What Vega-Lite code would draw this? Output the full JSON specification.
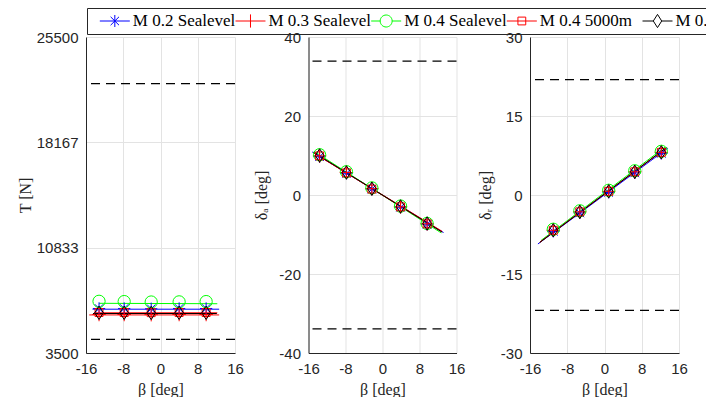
{
  "$schema": "https://vega.github.io/schema/vega-lite/v6.json",
  "padding": {"left": 17, "top": 7, "right": 0, "bottom": 0},
  "background": "white",
  "spacing": -5,
  "config": {
    "view": {"stroke": null},
    "axis": {"labelFont": "Liberation Sans", "labelFontSize": 15, "labelColor": "#262626", "titleFont": "Liberation Serif", "titleFontSize": 16, "titleFontWeight": "normal", "titleColor": "#262626", "domainColor": "#262626", "domainWidth": 1, "gridColor": "#e3e3e3", "ticks": false, "labelPadding": 8, "labelFlush": false, "labelOverlap": false},
    "axisX": {"titlePadding": 5}
  },
  "resolve": {"scale": {"x": "independent", "y": "independent", "color": "independent", "shape": "independent"}},
  "datasets": {
    "legend": [
      {"series": "M 0.2 Sealevel"},
      {"series": "M 0.3 Sealevel"},
      {"series": "M 0.4 Sealevel"},
      {"series": "M 0.4 5000m"},
      {"series": "M 0.4 10000m"}
    ],
    "T": [
      {"series": "M 0.2 Sealevel", "kind": "line", "beta": -14.6, "value": 6550},
      {"series": "M 0.2 Sealevel", "kind": "line", "beta": 12.6, "value": 6550},
      {"series": "M 0.2 Sealevel", "kind": "marker", "beta": -13.2, "value": 6600},
      {"series": "M 0.2 Sealevel", "kind": "marker", "beta": -7.8, "value": 6600},
      {"series": "M 0.2 Sealevel", "kind": "marker", "beta": -2.0, "value": 6580},
      {"series": "M 0.2 Sealevel", "kind": "marker", "beta": 4.0, "value": 6600},
      {"series": "M 0.2 Sealevel", "kind": "marker", "beta": 9.8, "value": 6600},
      {"series": "M 0.3 Sealevel", "kind": "line", "beta": -15.3, "value": 6150},
      {"series": "M 0.3 Sealevel", "kind": "line", "beta": 12.6, "value": 6150},
      {"series": "M 0.3 Sealevel", "kind": "marker", "beta": -13.2, "value": 6180},
      {"series": "M 0.3 Sealevel", "kind": "marker", "beta": -7.8, "value": 6180},
      {"series": "M 0.3 Sealevel", "kind": "marker", "beta": -2.0, "value": 6170},
      {"series": "M 0.3 Sealevel", "kind": "marker", "beta": 4.0, "value": 6180},
      {"series": "M 0.3 Sealevel", "kind": "marker", "beta": 9.8, "value": 6180},
      {"series": "M 0.4 Sealevel", "kind": "line", "beta": -13.2, "value": 6960},
      {"series": "M 0.4 Sealevel", "kind": "line", "beta": 12.2, "value": 6930},
      {"series": "M 0.4 Sealevel", "kind": "marker", "beta": -13.2, "value": 7100},
      {"series": "M 0.4 Sealevel", "kind": "marker", "beta": -7.8, "value": 7080},
      {"series": "M 0.4 Sealevel", "kind": "marker", "beta": -2.0, "value": 7050},
      {"series": "M 0.4 Sealevel", "kind": "marker", "beta": 4.0, "value": 7060},
      {"series": "M 0.4 Sealevel", "kind": "marker", "beta": 9.8, "value": 7080},
      {"series": "M 0.4 5000m", "kind": "line", "beta": -14.2, "value": 6300},
      {"series": "M 0.4 5000m", "kind": "line", "beta": 12.2, "value": 6300},
      {"series": "M 0.4 5000m", "kind": "marker", "beta": -13.2, "value": 6320},
      {"series": "M 0.4 5000m", "kind": "marker", "beta": -7.8, "value": 6320},
      {"series": "M 0.4 5000m", "kind": "marker", "beta": -2.0, "value": 6310},
      {"series": "M 0.4 5000m", "kind": "marker", "beta": 4.0, "value": 6320},
      {"series": "M 0.4 5000m", "kind": "marker", "beta": 9.8, "value": 6320},
      {"series": "M 0.4 10000m", "kind": "line", "beta": -14.5, "value": 6250},
      {"series": "M 0.4 10000m", "kind": "line", "beta": 12.1, "value": 6250},
      {"series": "M 0.4 10000m", "kind": "marker", "beta": -13.2, "value": 6300},
      {"series": "M 0.4 10000m", "kind": "marker", "beta": -7.8, "value": 6300},
      {"series": "M 0.4 10000m", "kind": "marker", "beta": -2.0, "value": 6290},
      {"series": "M 0.4 10000m", "kind": "marker", "beta": 4.0, "value": 6300},
      {"series": "M 0.4 10000m", "kind": "marker", "beta": 9.8, "value": 6300}
    ],
    "da": [
      {"series": "M 0.2 Sealevel", "kind": "line", "beta": -15.2, "value": 10.9},
      {"series": "M 0.2 Sealevel", "kind": "line", "beta": 13.2, "value": -9.5},
      {"series": "M 0.2 Sealevel", "kind": "marker", "beta": -13.6, "value": 9.7},
      {"series": "M 0.2 Sealevel", "kind": "marker", "beta": -7.8, "value": 5.5},
      {"series": "M 0.2 Sealevel", "kind": "marker", "beta": -2.3, "value": 1.5},
      {"series": "M 0.2 Sealevel", "kind": "marker", "beta": 3.9, "value": -3.1},
      {"series": "M 0.2 Sealevel", "kind": "marker", "beta": 9.65, "value": -7.4},
      {"series": "M 0.3 Sealevel", "kind": "line", "beta": -14.9, "value": 10.7},
      {"series": "M 0.3 Sealevel", "kind": "line", "beta": 12.9, "value": -9.2},
      {"series": "M 0.3 Sealevel", "kind": "marker", "beta": -13.6, "value": 9.9},
      {"series": "M 0.3 Sealevel", "kind": "marker", "beta": -7.8, "value": 5.7},
      {"series": "M 0.3 Sealevel", "kind": "marker", "beta": -2.3, "value": 1.6},
      {"series": "M 0.3 Sealevel", "kind": "marker", "beta": 3.9, "value": -3.0},
      {"series": "M 0.3 Sealevel", "kind": "marker", "beta": 9.65, "value": -7.3},
      {"series": "M 0.4 Sealevel", "kind": "line", "beta": -14.6, "value": 10.9},
      {"series": "M 0.4 Sealevel", "kind": "line", "beta": 12.7, "value": -9.6},
      {"series": "M 0.4 Sealevel", "kind": "marker", "beta": -13.6, "value": 10.2},
      {"series": "M 0.4 Sealevel", "kind": "marker", "beta": -7.8, "value": 5.9},
      {"series": "M 0.4 Sealevel", "kind": "marker", "beta": -2.3, "value": 1.8},
      {"series": "M 0.4 Sealevel", "kind": "marker", "beta": 3.9, "value": -2.8},
      {"series": "M 0.4 Sealevel", "kind": "marker", "beta": 9.65, "value": -7.2},
      {"series": "M 0.4 5000m", "kind": "line", "beta": -14.8, "value": 10.6},
      {"series": "M 0.4 5000m", "kind": "line", "beta": 12.8, "value": -9.3},
      {"series": "M 0.4 5000m", "kind": "marker", "beta": -13.6, "value": 9.9},
      {"series": "M 0.4 5000m", "kind": "marker", "beta": -7.8, "value": 5.6},
      {"series": "M 0.4 5000m", "kind": "marker", "beta": -2.3, "value": 1.5},
      {"series": "M 0.4 5000m", "kind": "marker", "beta": 3.9, "value": -3.0},
      {"series": "M 0.4 5000m", "kind": "marker", "beta": 9.65, "value": -7.3},
      {"series": "M 0.4 10000m", "kind": "line", "beta": -14.9, "value": 10.8},
      {"series": "M 0.4 10000m", "kind": "line", "beta": 12.9, "value": -9.4},
      {"series": "M 0.4 10000m", "kind": "marker", "beta": -13.6, "value": 10.0},
      {"series": "M 0.4 10000m", "kind": "marker", "beta": -7.8, "value": 5.7},
      {"series": "M 0.4 10000m", "kind": "marker", "beta": -2.3, "value": 1.6},
      {"series": "M 0.4 10000m", "kind": "marker", "beta": 3.9, "value": -2.9},
      {"series": "M 0.4 10000m", "kind": "marker", "beta": 9.65, "value": -7.2}
    ],
    "dr": [
      {"series": "M 0.2 Sealevel", "kind": "line", "beta": -14.3, "value": -9.3},
      {"series": "M 0.2 Sealevel", "kind": "line", "beta": 13.6, "value": 8.9},
      {"series": "M 0.2 Sealevel", "kind": "marker", "beta": -11.0, "value": -6.9},
      {"series": "M 0.2 Sealevel", "kind": "marker", "beta": -5.3, "value": -3.4},
      {"series": "M 0.2 Sealevel", "kind": "marker", "beta": 0.9, "value": 0.5},
      {"series": "M 0.2 Sealevel", "kind": "marker", "beta": 6.5, "value": 4.2},
      {"series": "M 0.2 Sealevel", "kind": "marker", "beta": 12.2, "value": 7.9},
      {"series": "M 0.3 Sealevel", "kind": "line", "beta": -13.9, "value": -9.0},
      {"series": "M 0.3 Sealevel", "kind": "line", "beta": 13.3, "value": 9.0},
      {"series": "M 0.3 Sealevel", "kind": "marker", "beta": -11.0, "value": -6.7},
      {"series": "M 0.3 Sealevel", "kind": "marker", "beta": -5.3, "value": -3.2},
      {"series": "M 0.3 Sealevel", "kind": "marker", "beta": 0.9, "value": 0.7},
      {"series": "M 0.3 Sealevel", "kind": "marker", "beta": 6.5, "value": 4.4},
      {"series": "M 0.3 Sealevel", "kind": "marker", "beta": 12.2, "value": 8.1},
      {"series": "M 0.4 Sealevel", "kind": "line", "beta": -13.6, "value": -8.6},
      {"series": "M 0.4 Sealevel", "kind": "line", "beta": 13.0, "value": 9.1},
      {"series": "M 0.4 Sealevel", "kind": "marker", "beta": -11.0, "value": -6.5},
      {"series": "M 0.4 Sealevel", "kind": "marker", "beta": -5.3, "value": -3.0},
      {"series": "M 0.4 Sealevel", "kind": "marker", "beta": 0.9, "value": 0.9},
      {"series": "M 0.4 Sealevel", "kind": "marker", "beta": 6.5, "value": 4.6},
      {"series": "M 0.4 Sealevel", "kind": "marker", "beta": 12.2, "value": 8.3},
      {"series": "M 0.4 5000m", "kind": "line", "beta": -13.8, "value": -8.9},
      {"series": "M 0.4 5000m", "kind": "line", "beta": 13.2, "value": 8.9},
      {"series": "M 0.4 5000m", "kind": "marker", "beta": -11.0, "value": -6.7},
      {"series": "M 0.4 5000m", "kind": "marker", "beta": -5.3, "value": -3.2},
      {"series": "M 0.4 5000m", "kind": "marker", "beta": 0.9, "value": 0.7},
      {"series": "M 0.4 5000m", "kind": "marker", "beta": 6.5, "value": 4.4},
      {"series": "M 0.4 5000m", "kind": "marker", "beta": 12.2, "value": 8.1},
      {"series": "M 0.4 10000m", "kind": "line", "beta": -13.9, "value": -9.0},
      {"series": "M 0.4 10000m", "kind": "line", "beta": 13.3, "value": 9.0},
      {"series": "M 0.4 10000m", "kind": "marker", "beta": -11.0, "value": -6.7},
      {"series": "M 0.4 10000m", "kind": "marker", "beta": -5.3, "value": -3.2},
      {"series": "M 0.4 10000m", "kind": "marker", "beta": 0.9, "value": 0.7},
      {"series": "M 0.4 10000m", "kind": "marker", "beta": 6.5, "value": 4.4},
      {"series": "M 0.4 10000m", "kind": "marker", "beta": 12.2, "value": 8.1}
    ],
    "Tb": [{"value": 22250}, {"value": 4450}],
    "dab": [{"value": 33.9}, {"value": -33.9}],
    "drb": [{"value": 21.9}, {"value": -21.9}]
  },
  "vconcat": [
    {
      "spacing": -67,
      "bounds": "flush",
      "resolve": {"scale": {"x": "independent", "y": "independent", "color": "independent", "shape": "independent"}},
      "hconcat": [
        {
          "width": 1, "height": 26,
          "data": {"values": [{"a": 1}]},
          "mark": {"type": "point", "opacity": 0},
          "encoding": {}
        },
        {
          "width": 704, "height": 26,
          "view": {"stroke": "#262626", "strokeWidth": 1, "fill": "white"},
          "data": {"name": "legend"},
          "layer": [
            {
              "mark": {"type": "point", "filled": false, "size": 144, "strokeWidth": 1, "opacity": 1, "xOffset": 15},
              "encoding": {
                "x": {"field": "series", "type": "nominal", "sort": null, "bandPosition": 0, "scale": {"type": "band", "paddingInner": 0, "paddingOuter": 0.0945}, "axis": null},
                "color": {"field": "series", "type": "nominal", "scale": {"domain": ["M 0.2 Sealevel", "M 0.3 Sealevel", "M 0.4 Sealevel", "M 0.4 5000m", "M 0.4 10000m"], "range": ["#0000ff", "#ff0000", "#00ff00", "#ff0000", "#000000"]}, "legend": null},
                "shape": {"field": "series", "type": "nominal", "scale": {"domain": ["M 0.2 Sealevel", "M 0.3 Sealevel", "M 0.4 Sealevel", "M 0.4 5000m", "M 0.4 10000m"], "range": ["M-2.5,0H2.5M0,-1V1M-0.7,-0.7L0.7,0.7M-0.7,0.7L0.7,-0.7", "M-2.5,0H2.5M0,-1.1V1.1", "M-2.5,0H-1A1,1,0,1,1,1,0A1,1,0,1,1,-1,0M1,0H2.5", "M-2.5,0H2.5M-0.65,-0.65H0.65V0.65H-0.65Z", "M-2.5,0H-0.7L0,-1.1L0.7,0L0,1.1L-0.7,0M0.7,0H2.5"]}, "legend": null}
              }
            },
            {
              "mark": {"type": "text", "align": "left", "baseline": "middle", "dx": 33, "font": "Liberation Serif", "fontSize": 17, "color": "#000000"},
              "encoding": {
                "x": {"field": "series", "type": "nominal", "sort": null, "bandPosition": 0, "scale": {"type": "band", "paddingInner": 0, "paddingOuter": 0.0945}, "axis": null},
                "text": {"field": "series"}
              }
            }
          ]
        }
      ]
    },
    {
      "spacing": 73.5,
      "bounds": "flush",
      "resolve": {"scale": {"x": "independent", "y": "independent", "color": "independent", "shape": "independent", "stroke": "independent"}},
      "hconcat": [
        {
          "width": 149, "height": 316,
          "layer": [
            {
              "data": {"name": "T"},
              "transform": [{"filter": "datum.kind === 'line'"}],
              "mark": {"type": "line", "strokeWidth": 1},
              "encoding": {
                "x": {"field": "beta", "type": "quantitative", "scale": {"domain": [-16, 16], "nice": false, "zero": false}, "axis": {"values": [-16, -8, 0, 8, 16], "labelExpr": "toString(datum.value)", "title": "β [deg]", "grid": true}},
                "y": {"field": "value", "type": "quantitative", "scale": {"domain": [3500, 25500], "nice": false, "zero": false}, "axis": {"values": [3500, 10833.333, 18166.667, 25500], "format": ".0f", "title": "T [N]", "titlePadding": 3, "grid": true}},
                "stroke": {"field": "series", "type": "nominal", "scale": {"domain": ["M 0.2 Sealevel", "M 0.3 Sealevel", "M 0.4 Sealevel", "M 0.4 5000m", "M 0.4 10000m"], "range": ["#0000ff", "#ff0000", "#00ff00", "#ff0000", "#000000"]}, "legend": null}
              }
            },
            {
              "data": {"name": "T"},
              "transform": [{"filter": "datum.kind === 'marker'"}],
              "mark": {"type": "point", "filled": false, "size": 150, "strokeWidth": 1, "opacity": 1},
              "encoding": {
                "x": {"field": "beta", "type": "quantitative", "axis": {"values": [-16, -8, 0, 8, 16], "labelExpr": "toString(datum.value)", "title": "β [deg]", "grid": true}},
                "y": {"field": "value", "type": "quantitative", "axis": {"values": [3500, 10833.333, 18166.667, 25500], "format": ".0f", "title": "T [N]", "titlePadding": 3, "grid": true}},
                "color": {"field": "series", "type": "nominal", "scale": {"domain": ["M 0.2 Sealevel", "M 0.3 Sealevel", "M 0.4 Sealevel", "M 0.4 5000m", "M 0.4 10000m"], "range": ["#0000ff", "#ff0000", "#00ff00", "#ff0000", "#000000"]}, "legend": null},
                "shape": {"field": "series", "type": "nominal", "scale": {"domain": ["M 0.2 Sealevel", "M 0.3 Sealevel", "M 0.4 Sealevel", "M 0.4 5000m", "M 0.4 10000m"], "range": ["M-1,0H1M0,-1V1M-0.7,-0.7L0.7,0.7M-0.7,0.7L0.7,-0.7", "M-1.1,0H1.1M0,-1.1V1.1", "circle", "M-0.65,-0.65H0.65V0.65H-0.65Z", "M0,-1.1L0.7,0L0,1.1L-0.7,0Z"]}, "legend": null}
              }
            },
            {
              "data": {"name": "Tb"},
              "mark": {"type": "rule", "color": "#000000", "strokeWidth": 1.2, "strokeDash": [9, 6]},
              "encoding": {"y": {"field": "value", "type": "quantitative", "axis": {"values": [3500, 10833.333, 18166.667, 25500], "format": ".0f", "title": "T [N]", "titlePadding": 3, "grid": true}}}
            }
          ]
        },
        {
          "width": 148, "height": 316,
          "layer": [
            {
              "data": {"name": "da"},
              "transform": [{"filter": "datum.kind === 'line'"}],
              "mark": {"type": "line", "strokeWidth": 1},
              "encoding": {
                "x": {"field": "beta", "type": "quantitative", "scale": {"domain": [-16, 16], "nice": false, "zero": false}, "axis": {"values": [-16, -8, 0, 8, 16], "labelExpr": "toString(datum.value)", "title": "β [deg]", "grid": true}},
                "y": {"field": "value", "type": "quantitative", "scale": {"domain": [-40, 40], "nice": false, "zero": false}, "axis": {"values": [-40, -20, 0, 20, 40], "labelExpr": "toString(datum.value)", "title": "δₐ [deg]", "titlePadding": 9, "grid": true}},
                "stroke": {"field": "series", "type": "nominal", "scale": {"domain": ["M 0.2 Sealevel", "M 0.3 Sealevel", "M 0.4 Sealevel", "M 0.4 5000m", "M 0.4 10000m"], "range": ["#0000ff", "#ff0000", "#00ff00", "#ff0000", "#000000"]}, "legend": null}
              }
            },
            {
              "data": {"name": "da"},
              "transform": [{"filter": "datum.kind === 'marker'"}],
              "mark": {"type": "point", "filled": false, "size": 150, "strokeWidth": 1, "opacity": 1},
              "encoding": {
                "x": {"field": "beta", "type": "quantitative", "axis": {"values": [-16, -8, 0, 8, 16], "labelExpr": "toString(datum.value)", "title": "β [deg]", "grid": true}},
                "y": {"field": "value", "type": "quantitative", "axis": {"values": [-40, -20, 0, 20, 40], "labelExpr": "toString(datum.value)", "title": "δₐ [deg]", "titlePadding": 9, "grid": true}},
                "color": {"field": "series", "type": "nominal", "scale": {"domain": ["M 0.2 Sealevel", "M 0.3 Sealevel", "M 0.4 Sealevel", "M 0.4 5000m", "M 0.4 10000m"], "range": ["#0000ff", "#ff0000", "#00ff00", "#ff0000", "#000000"]}, "legend": null},
                "shape": {"field": "series", "type": "nominal", "scale": {"domain": ["M 0.2 Sealevel", "M 0.3 Sealevel", "M 0.4 Sealevel", "M 0.4 5000m", "M 0.4 10000m"], "range": ["M-1,0H1M0,-1V1M-0.7,-0.7L0.7,0.7M-0.7,0.7L0.7,-0.7", "M-1.1,0H1.1M0,-1.1V1.1", "circle", "M-0.65,-0.65H0.65V0.65H-0.65Z", "M0,-1.1L0.7,0L0,1.1L-0.7,0Z"]}, "legend": null}
              }
            },
            {
              "data": {"name": "dab"},
              "mark": {"type": "rule", "color": "#000000", "strokeWidth": 1.2, "strokeDash": [9, 6]},
              "encoding": {"y": {"field": "value", "type": "quantitative", "axis": {"values": [-40, -20, 0, 20, 40], "labelExpr": "toString(datum.value)", "title": "δₐ [deg]", "titlePadding": 9, "grid": true}}}
            }
          ]
        },
        {
          "width": 149, "height": 316,
          "layer": [
            {
              "data": {"name": "dr"},
              "transform": [{"filter": "datum.kind === 'line'"}],
              "mark": {"type": "line", "strokeWidth": 1},
              "encoding": {
                "x": {"field": "beta", "type": "quantitative", "scale": {"domain": [-16, 16], "nice": false, "zero": false}, "axis": {"values": [-16, -8, 0, 8, 16], "labelExpr": "toString(datum.value)", "title": "β [deg]", "grid": true}},
                "y": {"field": "value", "type": "quantitative", "scale": {"domain": [-30, 30], "nice": false, "zero": false}, "axis": {"values": [-30, -15, 0, 15, 30], "labelExpr": "toString(datum.value)", "title": "δᵣ [deg]", "titlePadding": 7, "grid": true}},
                "stroke": {"field": "series", "type": "nominal", "scale": {"domain": ["M 0.2 Sealevel", "M 0.3 Sealevel", "M 0.4 Sealevel", "M 0.4 5000m", "M 0.4 10000m"], "range": ["#0000ff", "#ff0000", "#00ff00", "#ff0000", "#000000"]}, "legend": null}
              }
            },
            {
              "data": {"name": "dr"},
              "transform": [{"filter": "datum.kind === 'marker'"}],
              "mark": {"type": "point", "filled": false, "size": 150, "strokeWidth": 1, "opacity": 1},
              "encoding": {
                "x": {"field": "beta", "type": "quantitative", "axis": {"values": [-16, -8, 0, 8, 16], "labelExpr": "toString(datum.value)", "title": "β [deg]", "grid": true}},
                "y": {"field": "value", "type": "quantitative", "axis": {"values": [-30, -15, 0, 15, 30], "labelExpr": "toString(datum.value)", "title": "δᵣ [deg]", "titlePadding": 7, "grid": true}},
                "color": {"field": "series", "type": "nominal", "scale": {"domain": ["M 0.2 Sealevel", "M 0.3 Sealevel", "M 0.4 Sealevel", "M 0.4 5000m", "M 0.4 10000m"], "range": ["#0000ff", "#ff0000", "#00ff00", "#ff0000", "#000000"]}, "legend": null},
                "shape": {"field": "series", "type": "nominal", "scale": {"domain": ["M 0.2 Sealevel", "M 0.3 Sealevel", "M 0.4 Sealevel", "M 0.4 5000m", "M 0.4 10000m"], "range": ["M-1,0H1M0,-1V1M-0.7,-0.7L0.7,0.7M-0.7,0.7L0.7,-0.7", "M-1.1,0H1.1M0,-1.1V1.1", "circle", "M-0.65,-0.65H0.65V0.65H-0.65Z", "M0,-1.1L0.7,0L0,1.1L-0.7,0Z"]}, "legend": null}
              }
            },
            {
              "data": {"name": "drb"},
              "mark": {"type": "rule", "color": "#000000", "strokeWidth": 1.2, "strokeDash": [9, 6]},
              "encoding": {"y": {"field": "value", "type": "quantitative", "axis": {"values": [-30, -15, 0, 15, 30], "labelExpr": "toString(datum.value)", "title": "δᵣ [deg]", "titlePadding": 7, "grid": true}}}
            }
          ]
        }
      ]
    }
  ]
}
